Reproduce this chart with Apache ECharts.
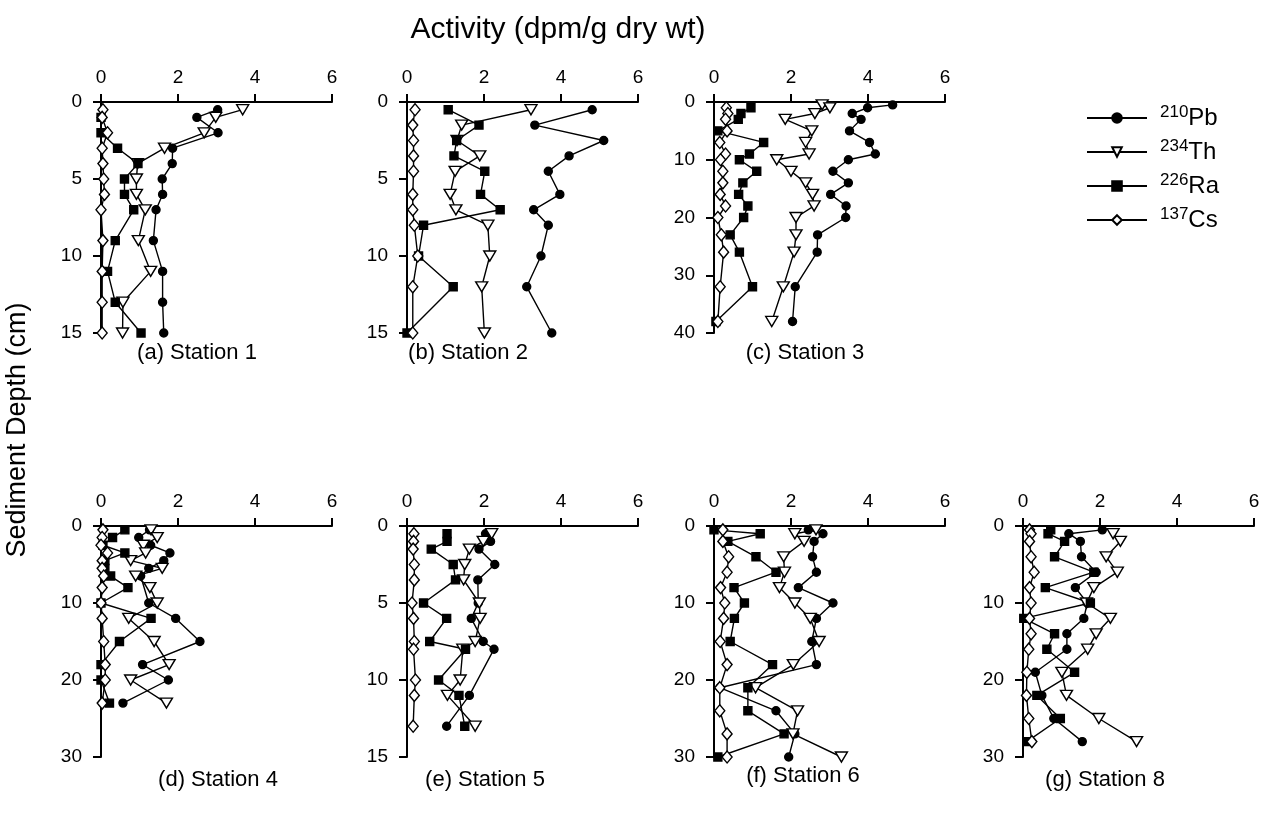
<!DOCTYPE html>
<html>
<head>
<meta charset="utf-8">
<title>Sediment activity profiles</title>
<script src="https://cdn.jsdelivr.net/npm/echarts@6/dist/echarts.min.js"></script>
<style>
    html, body { margin: 0; padding: 0; background: #fff; }
    #profiles { width: 1264px; height: 827px; }
</style>
</head>
<body>
<div id="profiles"></div>
<script>

// Data (activity in dpm/g dry wt, depth in cm)
// ------------------------------

var xTicks = [0, 2, 4, 6];

// Station 1
var s1PbDepth = [0.5, 1, 2, 3, 4, 5, 6, 7, 9, 11, 13, 15];
var s1Pb = [3.03, 2.49, 3.04, 1.86, 1.85, 1.59, 1.6, 1.43, 1.36, 1.6, 1.6, 1.63];
var s1ThDepth = [0.5, 1, 2, 3, 4, 5, 6, 7, 9, 11, 13, 15];
var s1Th = [3.68, 2.98, 2.68, 1.65, 0.95, 0.92, 0.92, 1.15, 0.97, 1.29, 0.57, 0.56];
var s1RaDepth = [1, 2, 3, 4, 5, 6, 7, 9, 11, 13, 15];
var s1Ra = [0, 0, 0.43, 0.96, 0.61, 0.61, 0.85, 0.37, 0.17, 0.37, 1.04];
var s1CsDepth = [0.5, 1, 2, 3, 4, 5, 6, 7, 9, 11, 13, 15];
var s1Cs = [0.05, 0.03, 0.17, 0.03, 0.05, 0.07, 0.09, 0, 0.05, 0.03, 0.03, 0.03];

// Station 2
var s2Depth = [0.5, 1.5, 2.5, 3.5, 4.5, 6, 7, 8, 10, 12, 15];
var s2Pb = [4.81, 3.32, 5.11, 4.21, 3.67, 3.97, 3.29, 3.67, 3.48, 3.11, 3.76];
var s2Th = [3.22, 1.42, 1.3, 1.89, 1.25, 1.12, 1.27, 2.1, 2.15, 1.94, 2.01];
var s2Ra = [1.07, 1.87, 1.29, 1.22, 2.02, 1.91, 2.42, 0.43, 0.3, 1.2, 0];
var s2Cs = [0.21, 0.15, 0.17, 0.17, 0.17, 0.15, 0.15, 0.19, 0.28, 0.15, 0.15];

// Station 3
var s3PbDepth = [0.5, 1, 2, 3, 5, 7, 9, 10, 12, 14, 16, 18, 20, 23, 26, 32, 38];
var s3Pb = [4.64, 3.99, 3.59, 3.82, 3.52, 4.04, 4.19, 3.49, 3.09, 3.49, 3.03, 3.43, 3.42, 2.69, 2.68, 2.11, 2.04];
var s3Th = [2.81, 3.01, 2.62, 1.85, 2.54, 2.38, 2.47, 1.63, 2.0, 2.38, 2.56, 2.6, 2.13, 2.13, 2.08, 1.8, 1.5];
var s3RaDepth = [1, 2, 3, 5, 7, 9, 10, 12, 14, 16, 18, 20, 23, 26, 32, 38];
var s3Ra = [0.96, 0.7, 0.63, 0.1, 1.29, 0.92, 0.66, 1.11, 0.75, 0.64, 0.88, 0.77, 0.42, 0.66, 1.0, 0.05];
var s3Cs = [0.32, 0.36, 0.3, 0.34, 0.15, 0.3, 0.17, 0.23, 0.23, 0.16, 0.3, 0.1, 0.19, 0.25, 0.16, 0.1];

// Station 4
var s4Depth = [0.5, 1.5, 2.5, 3.5, 4.5, 5.5, 6.5, 8, 10, 12, 15, 18, 20, 23];
var s4PbDepth = [0.5, 1.5, 2.5, 3.5, 4.5, 5.5, 6.5, 10, 12, 15, 18, 20, 23];
var s4Pb = [1.26, 0.98, 1.29, 1.79, 1.63, 1.24, 1.03, 1.24, 1.94, 2.57, 1.08, 1.75, 0.57];
var s4Th = [1.3, 1.46, 1.1, 1.16, 0.77, 1.59, 0.9, 1.27, 1.46, 0.72, 1.38, 1.77, 0.77, 1.7];
var s4Ra = [0.62, 0.3, 0.05, 0.62, 0.1, 0.1, 0.25, 0.7, 0, 1.3, 0.48, 0, 0, 0.22];
var s4Cs = [0.05, 0.03, 0, 0.17, 0.03, 0.03, 0.07, 0.03, 0, 0.03, 0.07, 0.11, 0.11, 0.03];

// Station 5
var s5Depth = [0.5, 1, 1.5, 2.5, 3.5, 5, 6, 7.5, 8, 10, 11, 13];
var s5PbDepth = [0.5, 1, 1.5, 2.5, 3.5, 5, 6, 7.5, 8, 11, 13];
var s5Pb = [2.04, 2.17, 1.87, 2.28, 1.84, 1.85, 1.67, 1.98, 2.26, 1.62, 1.03];
var s5Th = [2.2, 1.98, 1.62, 1.5, 1.47, 1.88, 1.9, 1.77, 1.45, 1.38, 1.05, 1.77];
var s5Ra = [1.04, 1.04, 0.63, 1.2, 1.26, 0.43, 1.03, 0.59, 1.52, 0.82, 1.35, 1.5];
var s5Cs = [0.18, 0.17, 0.16, 0.19, 0.19, 0.13, 0.17, 0.19, 0.17, 0.22, 0.19, 0.16];

// Station 6
var s6Depth = [0.5, 1, 2, 4, 6, 8, 10, 12, 15, 18, 21, 24, 27, 30];
var s6CsDepth = [0.5, 2, 4, 6, 8, 10, 12, 15, 18, 21, 24, 27, 30];
var s6Pb = [2.45, 2.83, 2.6, 2.56, 2.66, 2.19, 3.09, 2.66, 2.54, 2.66, 0.15, 1.61, 2.1, 1.94];
var s6Th = [2.65, 2.1, 2.34, 1.81, 1.83, 1.7, 2.1, 2.5, 2.73, 2.06, 1.08, 2.17, 2.05, 3.31];
var s6Ra = [0, 1.2, 0.36, 1.09, 1.61, 0.52, 0.79, 0.53, 0.42, 1.52, 0.88, 0.88, 1.82, 0.1];
var s6Cs = [0.23, 0.23, 0.38, 0.34, 0.17, 0.28, 0.25, 0.16, 0.34, 0.15, 0.15, 0.34, 0.34];

// Station 8
var s8Depth = [0.5, 1, 2, 4, 6, 8, 10, 12, 14, 16, 19, 22, 25, 28];
var s8ThDepth = [1, 2, 4, 6, 8, 10, 12, 14, 16, 19, 22, 25, 28];
var s8Pb = [2.06, 1.19, 1.49, 1.52, 1.9, 1.36, 1.67, 1.58, 1.14, 1.14, 0.32, 0.49, 0.8, 1.54];
var s8Th = [2.34, 2.53, 2.16, 2.45, 1.84, 1.65, 2.27, 1.9, 1.68, 1.01, 1.13, 1.97, 2.95];
var s8Ra = [0.72, 0.65, 1.08, 0.82, 1.84, 0.58, 1.75, 0.02, 0.82, 0.62, 1.34, 0.36, 0.97, 0.1];
var s8Cs = [0.17, 0.21, 0.17, 0.21, 0.29, 0.17, 0.21, 0.17, 0.21, 0.15, 0.1, 0.09, 0.15, 0.23];

var panelTitles = ['(a) Station 1', '(b) Station 2', '(c) Station 3', '(d) Station 4',
                   '(e) Station 5', '(f) Station 6', '(g) Station 8'];
var depthMax = [15, 15, 40, 30, 15, 30, 30];
var depthStep = [5, 5, 10, 10, 5, 10, 10];


// Setup chart
// ------------------------------

var FONT = 'Liberation Sans, Arial, sans-serif';
var triDown = 'path://M0,0 L10,0 L5,9 Z';

var isotopes = {
    '210Pb': { symbol: 'circle', size: 8, fill: '#000' },
    '234Th': { symbol: triDown, size: [12, 10], fill: '#fff' },
    '226Ra': { symbol: 'rect', size: 8, fill: '#000' },
    '137Cs': { symbol: 'diamond', size: [10, 12], fill: '#fff' }
};

// panel layout (pixel positions of each plot box)
var panelLeft = [101, 407, 714, 101, 407, 714, 1023];
var panelTop = [102, 102, 102, 526, 526, 526, 526];
var titlePos = [[192, 337], [463, 337], [800, 337], [213, 764], [480, 764], [798, 760], [1100, 764]];

var profile = function(name, idx, values, depths) {
    var st = isotopes[name];
    return {
        name: name,
        type: 'line',
        xAxisIndex: idx,
        yAxisIndex: idx,
        data: values.map(function(v, i) { return [v, depths[i]]; }),
        symbol: st.symbol,
        symbolSize: st.size,
        clip: false,
        animation: false,
        lineStyle: { color: '#000', width: 1.4 },
        itemStyle: { color: st.fill, borderColor: '#000', borderWidth: 1.4 }
    };
};

var panels = [
    [s1Pb, s1PbDepth, s1Th, s1ThDepth, s1Ra, s1RaDepth, s1Cs, s1CsDepth],
    [s2Pb, s2Depth, s2Th, s2Depth, s2Ra, s2Depth, s2Cs, s2Depth],
    [s3Pb, s3PbDepth, s3Th, s3PbDepth, s3Ra, s3RaDepth, s3Cs, s3RaDepth],
    [s4Pb, s4PbDepth, s4Th, s4Depth, s4Ra, s4Depth, s4Cs, s4Depth],
    [s5Pb, s5PbDepth, s5Th, s5Depth, s5Ra, s5Depth, s5Cs, s5Depth],
    [s6Pb, s6Depth, s6Th, s6Depth, s6Ra, s6Depth, s6Cs, s6CsDepth],
    [s8Pb, s8Depth, s8Th, s8ThDepth, s8Ra, s8Depth, s8Cs, s8Depth]
];

var grids = [], xAxes = [], yAxes = [], series = [];
var titles = [{
    text: 'Activity (dpm/g dry wt)',
    left: 553, top: 10, textAlign: 'center',
    textStyle: { fontFamily: FONT, fontSize: 30, fontWeight: 'normal', color: '#000' }
}];

var axisLineStyle = { color: '#000', width: 2 };

panels.forEach(function(p, i) {
    grids.push({ left: panelLeft[i], top: panelTop[i], width: 231, height: 231 });

    xAxes.push({
        gridIndex: i,
        type: 'value',
        position: 'top',
        min: xTicks[0],
        max: xTicks[xTicks.length - 1],
        interval: 2,
        axisLine: { show: true, onZero: false, lineStyle: axisLineStyle },
        axisTick: { show: true, length: 8, lineStyle: axisLineStyle },
        axisLabel: { color: '#000', fontFamily: FONT, fontSize: 19, margin: 15 },
        splitLine: { show: false }
    });

    yAxes.push({
        gridIndex: i,
        type: 'value',
        inverse: true,
        min: 0,
        max: depthMax[i],
        interval: depthStep[i],
        axisLine: { show: true, onZero: false, lineStyle: axisLineStyle },
        axisTick: { show: true, length: 8, lineStyle: axisLineStyle },
        axisLabel: { color: '#000', fontFamily: FONT, fontSize: 19, margin: 19 },
        splitLine: { show: false }
    });

    series.push(profile('210Pb', i, p[0], p[1]));
    series.push(profile('234Th', i, p[2], p[3]));
    series.push(profile('226Ra', i, p[4], p[5]));
    series.push(profile('137Cs', i, p[6], p[7]));

    titles.push({
        text: panelTitles[i],
        left: titlePos[i][0], top: titlePos[i][1], textAlign: 'center',
        textStyle: { fontFamily: FONT, fontSize: 22, fontWeight: 'normal', color: '#000' }
    });
});

var chart = echarts.init(document.getElementById('profiles'), null, { renderer: 'canvas' });

chart.setOption({
    backgroundColor: '#fff',
    animation: false,
    textStyle: { fontFamily: FONT },
    title: titles,
    legend: {
        orient: 'vertical',
        left: 1081,
        top: 99,
        itemWidth: 60,
        itemHeight: 12,
        itemGap: 8,
        data: ['210Pb', '234Th', '226Ra', '137Cs'],
        formatter: function(name) {
            return '{sup|' + name.slice(0, 3) + '}{el|' + name.slice(3) + '}';
        },
        textStyle: {
            color: '#000',
            rich: {
                sup: { fontFamily: FONT, fontSize: 17, lineHeight: 15, verticalAlign: 'top', color: '#000', padding: [0, 0, 0, 8] },
                el: { fontFamily: FONT, fontSize: 24, lineHeight: 28, color: '#000' }
            }
        }
    },
    graphic: [{
        type: 'text',
        x: 18,
        y: 430,
        rotation: Math.PI / 2,
        style: {
            text: 'Sediment Depth (cm)',
            font: '27px ' + FONT,
            fill: '#000',
            textAlign: 'center',
            textVerticalAlign: 'middle'
        }
    }],
    grid: grids,
    xAxis: xAxes,
    yAxis: yAxes,
    series: series
});

window.addEventListener('resize', function() {
    chart.resize();
});

</script>
</body>
</html>
